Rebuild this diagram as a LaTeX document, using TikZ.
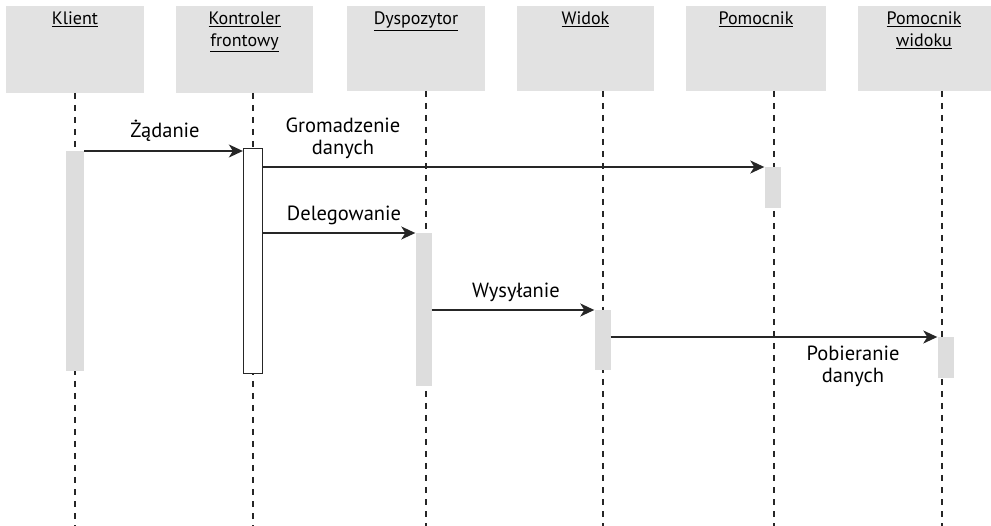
\documentclass[tikz,border=0pt]{standalone}
\usepackage{fontspec}
\setmainfont{PT Sans}
\usetikzlibrary{arrows.meta}
\definecolor{hdrgray}{HTML}{E2E2E2}
\definecolor{bargray}{HTML}{DDDDDD}
\begin{document}
\begin{tikzpicture}[x=1pt,y=-1pt,
  hdrtext/.style={anchor=north,align=center,font=\fontsize{18}{21.5}\selectfont,inner sep=0pt},
  lifeline/.style={draw=black!85,line width=1.1pt,dash pattern=on 6pt off 6pt},
  bar/.style={fill=bargray,draw=none,minimum width=16pt,inner sep=0pt,anchor=north},
  wbar/.style={fill=white,draw=black!85,line width=1.3pt,minimum width=19pt,inner sep=0pt,anchor=north},
  msg/.style={draw=black!85,line width=1.6pt,-{Stealth[length=14pt,width=13pt,inset=4pt]}},
  lbl/.style={align=center,font=\fontsize{20.5}{22}\selectfont,inner sep=0pt}]
\useasboundingbox (0,0) rectangle (991,526);
% header boxes
\fill[hdrgray] (6,6) rectangle (144,93);
\fill[hdrgray] (176,6) rectangle (313,93);
\fill[hdrgray] (347,6) rectangle (485,91);
\fill[hdrgray] (517,6) rectangle (654,91);
\fill[hdrgray] (686,6) rectangle (826,91);
\fill[hdrgray] (858,6) rectangle (995,91);
\node[hdrtext] (hk) at (75,12) {\underline{Klient}};
\node[hdrtext] (hf) at (244.5,12) {\underline{Kontroler}\\\underline{frontowy}};
\node[hdrtext] (hd) at (416,12) {\underline{Dyspozytor}};
\node[hdrtext] (hw) at (585.5,12) {\underline{Widok}};
\node[hdrtext] (hp) at (756,12) {\underline{Pomocnik}};
\node[hdrtext] (hv) at (924,12) {\underline{Pomocnik}\\\underline{widoku}};
% lifelines
\coordinate (lkt) at (75,93);   \coordinate (lkb) at (75,526);
\coordinate (lft) at (253,93);  \coordinate (lfb) at (253,526);
\coordinate (ldt) at (426,91);  \coordinate (ldb) at (426,526);
\coordinate (lwt) at (603,91);  \coordinate (lwb) at (603,526);
\coordinate (lpt) at (774,91);  \coordinate (lpb) at (774,526);
\coordinate (lvt) at (942,91);  \coordinate (lvb) at (942,526);
\foreach \a/\b in {lkt/lkb,lft/lfb,ldt/ldb,lwt/lwb,lpt/lpb,lvt/lvb}
  \draw[lifeline] (\a) -- (\b);
% activation bars
\node[bar,minimum width=18pt,minimum height=220pt] (kb) at (75,151) {};
\node[wbar,minimum height=225pt] (fb) at (253,148) {};
\node[bar,minimum height=153pt] (db) at (423.5,233) {};
\node[bar,minimum height=60pt] (wb) at (602.5,310) {};
\node[bar,minimum height=41pt] (pb) at (772.5,167) {};
\node[bar,minimum height=41pt] (vb) at (945.5,337) {};
% messages
\draw[msg] (kb.north east) -- (kb.north east -| fb.west);
\draw[msg] (fb.east |- pb.north) -- (pb.north west);
\draw[msg] (fb.east |- db.north) -- (db.north west);
\draw[msg] (db.east |- wb.north) -- (wb.north west);
\draw[msg] (wb.east |- vb.north) -- (vb.north west);
% labels
\node[lbl] (l1) at (165,131) {Żądanie};
\node[lbl] (l2) at (343,138) {Gromadzenie\\danych};
\node[lbl] (l3) at (344,215) {Delegowanie};
\node[lbl] (l4) at (516,292) {Wysyłanie};
\node[lbl] (l5) at (853,366) {Pobieranie\\danych};
\end{tikzpicture}
\end{document}
